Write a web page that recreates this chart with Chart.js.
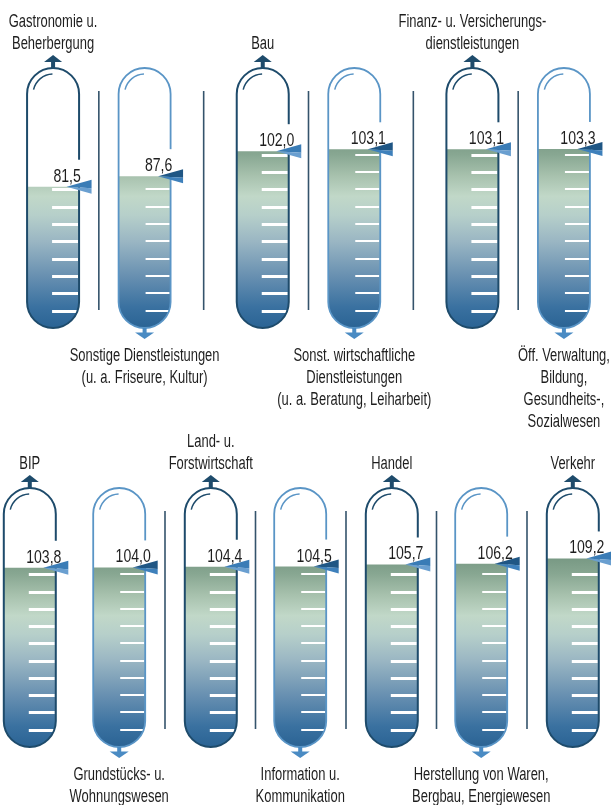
<!DOCTYPE html>
<html>
<head>
<meta charset="utf-8">
<script src="https://cdn.jsdelivr.net/npm/chart.js@4.4.1/dist/chart.umd.min.js"></script>
<style>
html,body{margin:0;padding:0;background:#fff;}
body{width:611px;height:805px;overflow:hidden;position:relative;}
#wrapTop{position:absolute;left:-6px;top:0;width:629px;height:440px;}
#wrapBot{position:absolute;left:-16px;top:420px;width:724px;height:385px;}
</style>
</head>
<body>
<div id="wrapTop"><canvas id="topChart"></canvas></div>
<div id="wrapBot"><canvas id="botChart"></canvas></div>
<script>
// ---- data ----
const topCategories = [
  ["Gastronomie u.", "Beherbergung"],
  ["Sonstige Dienstleistungen", "(u. a. Friseure, Kultur)"],
  ["Bau"],
  ["Sonst. wirtschaftliche", "Dienstleistungen", "(u. a. Beratung, Leiharbeit)"],
  ["Finanz- u. Versicherungs-", "dienstleistungen"],
  ["Öff. Verwaltung,", "Bildung,", "Gesundheits-,", "Sozialwesen"]
];
const topValues = [81.5, 87.6, 102.0, 103.1, 103.1, 103.3];

const bottomCategories = [
  ["BIP"],
  ["Grundstücks- u.", "Wohnungswesen"],
  ["Land- u.", "Forstwirtschaft"],
  ["Information u.", "Kommunikation"],
  ["Handel"],
  ["Herstellung von Waren,", "Bergbau, Energiewesen"],
  ["Verkehr"]
];
const bottomValues = [103.8, 104.0, 104.4, 104.5, 105.7, 106.2, 109.2];

const Y_MIN = 0, Y_MAX = 150, Y_STEP = 10;

// ---- styles ----
const SX_LABEL = 0.72;
const SX_VALUE = 0.74;
const FONT_LABEL = '18px "Liberation Sans", Arial, sans-serif';
const FONT_VALUE = '19px "Liberation Sans", Arial, sans-serif';
const TEXT_COLOR = '#1e1e1e';
const DARK = '#1e4b6b';
const LIGHT = '#5a95c6';
const SEP_COLOR = '#34536b';
const GRAD_STOPS = [[0,'#2a6394'],[12,'#3a71a0'],[30,'#6890b1'],[50,'#9ab6c3'],[65,'#b6cfca'],[76,'#c1d8c8'],[88,'#a7c1ad'],[100,'#88a792'],[110,'#779883'],[150,'#5c8069']];
const R = 26;

function splitPairs(values) {
  const dark = [], light = [];
  for (let i = 0; i < values.length; i += 2) {
    dark.push(values[i]);
    light.push(i + 1 < values.length ? values[i + 1] : null);
  }
  return { dark, light };
}

function fillGradient(context) {
  const chart = context.chart;
  if (!chart.chartArea) return '#88a792';
  const ys = chart.scales.y;
  const g = chart.ctx.createLinearGradient(0, ys.getPixelForValue(Y_MIN), 0, ys.getPixelForValue(Y_MAX));
  GRAD_STOPS.forEach(([v, c]) => g.addColorStop((v - Y_MIN) / (Y_MAX - Y_MIN), c));
  return g;
}

function addTubePath(ctx, x, top, bottom) {
  ctx.moveTo(x - R, top + R);
  ctx.arc(x, top + R, R, Math.PI, 0);
  ctx.lineTo(x + R, bottom - R);
  ctx.arc(x, bottom - R, R, 0, Math.PI);
  ctx.closePath();
}

function collectTubes(chart) {
  const ys = chart.scales.y;
  const out = [];
  chart.data.datasets.forEach((ds, di) => {
    const meta = chart.getDatasetMeta(di);
    meta.data.forEach((el, i) => {
      const v = ds.data[i];
      if (v === null || v === undefined) return;
      out.push({
        idx: 2 * i + di, dark: di === 0, x: el.x, v,
        fy: ys.getPixelForValue(v),
        top: ys.getPixelForValue(Y_MAX),
        bottom: ys.getPixelForValue(Y_MIN)
      });
    });
  });
  out.sort((a, b) => a.idx - b.idx);
  return out;
}

function drawText(ctx, text, x, y, align, baseline, sx, font) {
  ctx.save();
  ctx.translate(x, y);
  ctx.scale(sx, 1);
  ctx.font = font;
  ctx.fillStyle = TEXT_COLOR;
  ctx.textAlign = align;
  ctx.textBaseline = baseline;
  ctx.fillText(text, 0, 0);
  ctx.restore();
}

function fmt(v) { return v.toFixed(1).replace('.', ','); }

const tubePlugin = {
  id: 'tubes',
  beforeDatasetsDraw(chart) {
    const ctx = chart.ctx;
    ctx.save();
    ctx.beginPath();
    collectTubes(chart).forEach(t => addTubePath(ctx, t.x, t.top, t.bottom));
    ctx.clip();
  },
  afterDatasetsDraw(chart, args, opts) {
    const ctx = chart.ctx;
    ctx.restore();
    const ys = chart.scales.y;
    const tubes = collectTubes(chart);
    const cats = opts.categories;
    const tickVals = [];
    for (let v = Y_MIN + Y_STEP; v < Y_MAX; v += Y_STEP) tickVals.push(v);

    tubes.forEach(t => {
      const col = t.dark ? DARK : LIGHT;
      // scale marks inside fill
      ctx.save();
      ctx.strokeStyle = '#ffffff';
      ctx.lineWidth = t.dark ? 3 : 2;
      tickVals.forEach(tv => {
        if (tv > t.v) return;
        const y = Math.round(ys.getPixelForValue(tv)) + (t.dark ? 0.5 : 0);
        ctx.beginPath();
        ctx.moveTo(t.x + (t.dark ? -1 : 1), y);
        ctx.lineTo(t.x + R - 1, y);
        ctx.stroke();
      });
      ctx.restore();

      // outline
      ctx.save();
      ctx.strokeStyle = col;
      ctx.lineWidth = t.dark ? 2 : 1.8;
      ctx.beginPath();
      addTubePath(ctx, t.x, t.top, t.bottom);
      ctx.stroke();
      // highlight arc
      ctx.lineWidth = 1.5;
      ctx.beginPath();
      ctx.arc(t.x, t.top + R, 20, Math.PI * 1.07, Math.PI * 1.49);
      ctx.stroke();
      // arrows
      ctx.fillStyle = t.dark ? DARK : '#4a8bc3';
      ctx.beginPath();
      if (t.dark) {
        ctx.fillRect(t.x - 2, t.top - 7, 4, 7);
        ctx.moveTo(t.x, t.top - 13);
        ctx.lineTo(t.x + 9, t.top - 6);
        ctx.lineTo(t.x - 9, t.top - 6);
      } else {
        ctx.fillRect(t.x - 2, t.bottom, 4, 5);
        ctx.moveTo(t.x - 9.5, t.bottom + 4.5);
        ctx.lineTo(t.x + 9.5, t.bottom + 4.5);
        ctx.lineTo(t.x, t.bottom + 11);
      }
      ctx.closePath();
      ctx.fill();
      ctx.restore();

      // white box behind value
      ctx.save();
      ctx.fillStyle = '#ffffff';
      ctx.fillRect(t.x + 1, t.fy - 27, 30, 26);
      ctx.restore();

      // value label
      drawText(ctx, fmt(t.v), t.x + 14, t.fy - 5, 'center', 'alphabetic', SX_VALUE, FONT_VALUE);

      // marker prism
      const tipX = t.x + 13.5, rx = t.x + 38.5;
      ctx.save();
      ctx.fillStyle = t.dark ? '#3a7cb6' : '#1f5684';
      ctx.beginPath();
      ctx.moveTo(tipX, t.fy); ctx.lineTo(rx, t.fy - 7); ctx.lineTo(rx, t.fy + 1.5); ctx.closePath();
      ctx.fill();
      ctx.fillStyle = t.dark ? '#6a9fd0' : '#3e80bb';
      ctx.beginPath();
      ctx.moveTo(tipX, t.fy); ctx.lineTo(rx, t.fy + 1.5); ctx.lineTo(rx, t.fy + 7); ctx.closePath();
      ctx.fill();
      ctx.restore();

      // category labels
      const lines = cats[t.idx];
      const n = lines.length;
      lines.forEach((ln, i) => {
        if (t.dark) {
          drawText(ctx, ln, t.x, t.top - 23.5 - (n - 1 - i) * 22, 'center', 'middle', SX_LABEL, FONT_LABEL);
        } else {
          drawText(ctx, ln, t.x, t.bottom + 28 + i * 22, 'center', 'middle', SX_LABEL, FONT_LABEL);
        }
      });
    });

    // separators
    ctx.save();
    ctx.strokeStyle = SEP_COLOR;
    ctx.lineWidth = 1.6;
    for (let i = 0; i + 1 < tubes.length; i++) {
      if ((opts.skipSeparators || []).includes(i)) continue;
      const sx = (tubes[i].x + tubes[i + 1].x) / 2;
      ctx.beginPath();
      ctx.moveTo(sx, tubes[i].top + 23);
      ctx.lineTo(sx, tubes[i].bottom - 18);
      ctx.stroke();
    }
    ctx.restore();
  }
};

function makeChart(canvasId, categories, values, catPct, padTop, padBottom, skip) {
  const pairs = splitPairs(values);
  const labels = pairs.dark.map((_, k) => 'Paar ' + (k + 1));
  return new Chart(document.getElementById(canvasId), {
    type: 'bar',
    data: {
      labels,
      datasets: [
        { label: 'obere Beschriftung', data: pairs.dark, backgroundColor: fillGradient, borderWidth: 0, categoryPercentage: catPct, barPercentage: 0.62 },
        { label: 'untere Beschriftung', data: pairs.light, backgroundColor: fillGradient, borderWidth: 0, categoryPercentage: catPct, barPercentage: 0.62 }
      ]
    },
    options: {
      responsive: true,
      maintainAspectRatio: false,
      animation: false,
      layout: { padding: { top: padTop, bottom: padBottom, left: 0, right: 0 } },
      scales: {
        x: { display: false, grid: { display: false } },
        y: { display: false, min: Y_MIN, max: Y_MAX, ticks: { stepSize: Y_STEP } }
      },
      plugins: {
        legend: { display: false },
        tooltip: { enabled: false },
        tubes: { categories, skipSeparators: skip }
      }
    },
    plugins: [tubePlugin]
  });
}

makeChart('topChart', topCategories, topValues, 0.873, 68, 112, []);
makeChart('botChart', bottomCategories, bottomValues, 0.988, 68, 58, [0]);
</script>
</body>
</html>
